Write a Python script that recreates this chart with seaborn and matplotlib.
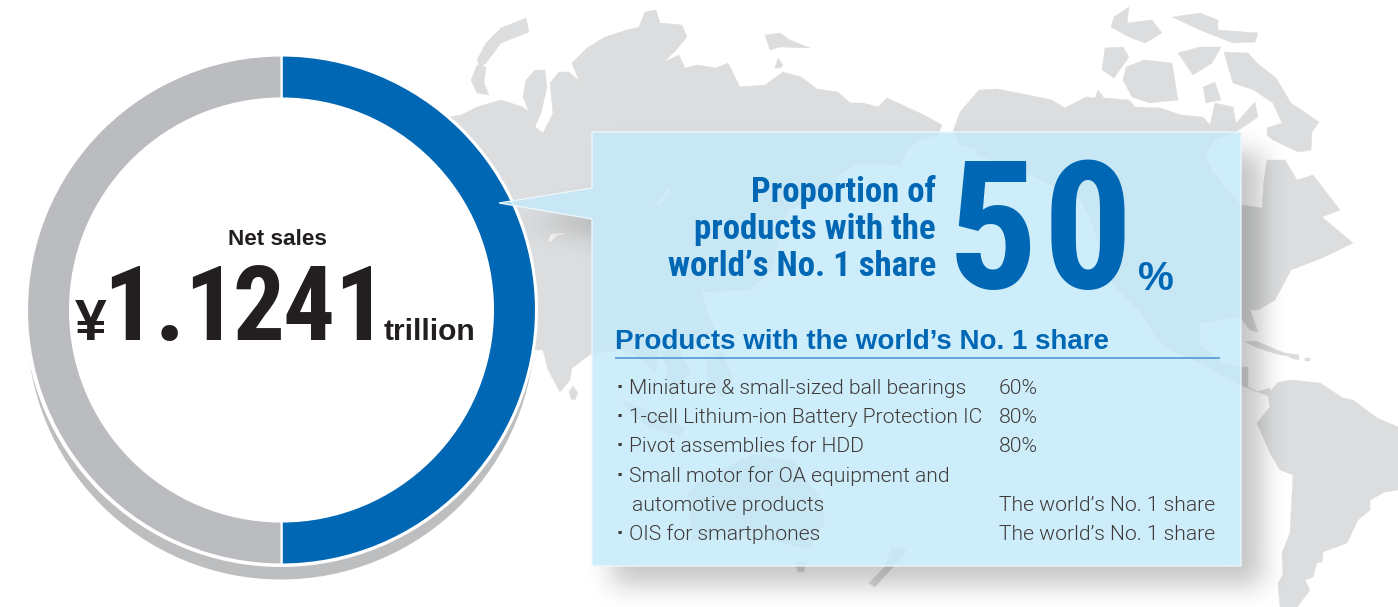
import numpy as np
import matplotlib
matplotlib.use("Agg")
import matplotlib.pyplot as plt
from matplotlib.patches import Circle, Polygon
from matplotlib.path import Path
from matplotlib import font_manager as fm
import seaborn as sns

# ---- figures shown on the chart ----
share_labels = ["World No. 1 products", "Other products"]
share_values = [50, 50]
net_sales = ["1.1", "2", "4", "1"]
product_names = [
    "Miniature & small-sized ball bearings",
    "1-cell Lithium-ion Battery Protection IC",
    "Pivot assemblies for HDD",
    "Small motor for OA equipment and",
    "automotive products",
    "OIS for smartphones",
]
product_shares = ["60%", "80%", "80%", "", "The world’s No. 1 share", "The world’s No. 1 share"]
has_bullet = [True, True, True, True, False, True]
headline = ["Proportion of", "products with the", "world’s No. 1 share"]

# ---- palette ----
BLUE = "#0067B5"
RING_GREY = "#BBBCBF"
LAND = "#DCDDDE"
INK = "#231F20"
BODY = "#3E3A39"
PANEL = "#C5EAF9"

W, H = 1398, 607

# ---- decorative world map outlines, in canvas pixels ----
eurasia = [(430,120),(461,115),(477,107),(501,100),(523,107),(529,112),(523,97),(526,80),(535,70),(545,70),
           (547,87),(541,113),(535,127),(543,133),(553,113),(550,83),(559,72),(569,72),(578,80),(582,88),
           (572,63),(587,48),(605,37),(627,30),(639,27),(645,12),(656,10),(660,23),(682,25),(687,37),
           (676,50),(664,62),(679,55),(685,68),(697,65),(716,68),(728,63),(740,87),(765,85),(783,72),
           (801,77),(817,89),(838,92),(850,103),(863,103),(878,107),(887,98),(924,115),(942,125),(938,135),
           (920,140),(908,149),(900,165),(858,164),(838,175),(832,195),(808,202),(788,210),(782,225),(770,218),
           (778,240),(772,270),(750,290),(702,292),(707,312),(715,330),(692,350),(680,345),(670,352),(660,345),
           (655,372),(640,358),(625,350),(592,353),(572,368),(570,380),(560,392),(548,370),(543,350),(535,350),
           (430,350)]
scandinavia = [(477,60),(486,43),(501,28),(526,18),(529,32),(501,43),(486,63),(480,68)]
iceland_like = [(471,80),(477,65),(486,67),(484,83),(489,95),(477,93)]
svalbard = [(765,35),(780,33),(790,40),(810,48),(780,47),(770,50)]
severny = [(775,68),(778,58),(783,65),(780,68)]
sri_lanka = [(569,392),(573,386),(578,393),(575,400),(571,399)]
sumatra = [(622,400),(650,412),(685,428),(680,436),(650,428),(628,412)]
indochina = [(660,352),(680,350),(690,372),(672,398),(665,385),(668,368)]
borneo = [(707,360),(722,352),(733,378),(722,398),(708,385)]
australia = [(687,493),(705,477),(752,455),(792,460),(822,500),(825,523),(809,550),(772,540),(732,537),(692,540)]
tasmania = [(795,562),(806,562),(804,572),(798,572)]
new_zealand = [(869,583),(884,568),(892,547),(907,550),(892,568),(875,587)]
north_america = [(960,112),(979,90),(997,89),(1028,95),(1052,100),(1065,108),(1086,97),(1095,98),(1098,90),
                 (1104,98),(1129,100),(1135,107),(1160,108),(1181,115),(1203,117),(1210,125),(1215,103),
                 (1233,107),(1236,123),(1255,102),(1258,117),(1236,132),(1215,140),(1205,155),(1213,172),
                 (1241,205),(1262,208),(1264,180),(1267,160),(1285,160),(1297,180),(1313,175),(1340,210),
                 (1322,217),(1353,243),(1322,258),(1291,270),(1275,300),(1258,310),(1250,310),(1258,332),
                 (1250,330),(1240,317),(1200,323),(1200,345),(1222,363),(1240,367),(1248,367),(1248,387),
                 (1257,392),(1270,388),(1271,397),(1240,385),(1200,363),(1170,350),(1157,339),(1140,312),
                 (1113,285),(1090,219),(1080,199),(1030,175),(977,155),(977,149),(960,145),(953,132)]
baffin = [(1227,63),(1224,52),(1248,53),(1257,63),(1276,78),(1291,103),(1319,122),(1312,132),(1311,150),
          (1298,152),(1273,140),(1267,135),(1267,128),(1282,123),(1273,103),(1254,90),(1233,83)]
ellesmere = [(1114,17),(1129,7),(1127,23),(1152,20),(1162,33),(1145,43),(1129,37),(1111,27)]
devon = [(1172,17),(1200,13),(1218,20),(1218,30),(1258,33),(1255,42),(1233,43),(1200,30)]
banks = [(1102,70),(1105,48),(1123,47),(1129,57),(1114,78)]
victoria = [(1126,67),(1144,60),(1172,63),(1178,100),(1150,103),(1132,97),(1123,80)]
somerset = [(1178,53),(1200,47),(1221,47),(1212,63),(1193,75)]
prince = [(1203,87),(1215,82),(1221,100),(1206,103)]
cuba = [(1245,342),(1256,341),(1277,350),(1297,358),(1277,354),(1258,348)]
hispaniola = [(1285,353),(1299,355),(1299,360),(1291,358)]
puerto_rico = [(1305,358),(1310,358),(1310,361),(1305,361)]
south_america = [(1277,383),(1290,380),(1320,383),(1343,398),(1353,400),(1377,418),(1398,427),(1398,490),
                 (1385,492),(1370,500),(1370,510),(1358,520),(1347,543),(1323,552),(1322,562),(1317,563),
                 (1313,577),(1305,580),(1310,590),(1297,607),(1280,607),(1278,583),(1283,575),(1282,553),
                 (1290,533),(1293,475),(1280,470),(1270,453),(1257,423),(1270,407),(1268,395)]
land_shapes = [eurasia, scandinavia, iceland_like, svalbard, severny, sri_lanka, sumatra, indochina, borneo,
               australia, tasmania, new_zealand, north_america, baffin, ellesmere, devon, banks, victoria,
               somerset, prince, cuba, hispaniola, puerto_rico, south_america]

# small inland waters left pale on the land
lake_caspian = [(548,241),(551,234),(567,233),(556,236),(551,242)]
lake_baikal = [(655,206),(668,188),(672,188),(662,203)]

# callout box with its pointer toward the ring
callout = [(592,132),(1241,132),(1241,566),(592,566),(592,219),(499,203),(592,188)]


def first_family(*names):
    for name in names:
        try:
            fm.findfont(fm.FontProperties(family=name), fallback_to_default=False)
            return name
        except ValueError:
            continue
    return "DejaVu Sans"


SANS = first_family("Liberation Sans", "DejaVu Sans")
NARROW = first_family("Roboto Condensed", "Archivo Narrow", "Roboto", "Liberation Sans")
LIGHT = first_family("Roboto", "Liberation Sans")

sns.set_theme(style="white")
plt.rcParams["font.family"] = [SANS, "DejaVu Sans"]
ring_palette = sns.color_palette([BLUE, RING_GREY])

fig = plt.figure(figsize=(W / 100, H / 100), dpi=100, facecolor="white")
ax = fig.add_axes([0, 0, 1, 1])
ax.set_xlim(0, W)
ax.set_ylim(H, 0)
ax.axis("off")

# map
for shape in land_shapes:
    ax.add_patch(Polygon(shape, closed=True, fc=LAND, ec=LAND, lw=0.3, zorder=1))
for lake in (lake_caspian, lake_baikal):
    ax.add_patch(Polygon(lake, closed=True, fc="#F6F6F6", ec="none", zorder=1.1))

# soft drop shadow of the callout, cast down and to the right; none under the box itself
ys, xs = np.mgrid[0:H, 0:W]
grid = np.column_stack([xs.ravel() + 0.5, ys.ravel() + 0.5])
caster = np.array([(612,152),(1262,152),(1262,585),(612,585),(612,235),(525,222),(612,208)], dtype=float)
mask = Path(caster).contains_points(grid).reshape(H, W).astype(float)
sigma = 13.0
radius = np.arange(-40, 41)
kernel = np.exp(-radius ** 2 / (2 * sigma ** 2))
kernel /= kernel.sum()
blurred = np.apply_along_axis(lambda r: np.convolve(r, kernel, mode="same"), 1, mask)
blurred = np.apply_along_axis(lambda c: np.convolve(c, kernel, mode="same"), 0, blurred)
blurred[Path(np.array(callout, dtype=float)).contains_points(grid).reshape(H, W)] = 0
shadow = np.zeros((H, W, 4))
shadow[..., 3] = blurred * 0.23
ax.imshow(shadow, extent=(0, W, H, 0), zorder=2, interpolation="bilinear", aspect="auto")

# ring with its solid offset shadow
ax.add_patch(Circle((281, 325.5), 254, fc="#BDBEC0", ec="none", zorder=3))
ax.add_patch(Circle((281, 310), 257, fc="white", ec="none", zorder=3.1))
wedges, _ = ax.pie(share_values, colors=ring_palette, startangle=270, counterclock=True,
                   center=(281.5, 310), radius=254.5, frame=True,
                   wedgeprops=dict(width=43, edgecolor="white", linewidth=1.5))
for w in wedges:
    w.set_zorder(4)
ax.set_xlim(0, W)
ax.set_ylim(H, 0)
ax.set_aspect("auto")
ax.axis("off")

# translucent callout
ax.add_patch(Polygon(callout, closed=True, fc=PANEL, alpha=0.83, ec="none", zorder=5))
ax.add_patch(Polygon(callout, closed=True, fc="none", ec="#EEF8FC", lw=0.9, zorder=5.1))

# centre of the ring
ax.text(277.5, 245, "Net sales", fontsize=16.2, fontweight="bold", color=INK, ha="center", va="baseline", zorder=6)
ax.text(91, 340, "¥", fontsize=41, fontweight="bold", color=INK, ha="center", va="baseline", zorder=6)
sales_centres = [170, 259, 309, 360]
for ch, cx in zip(net_sales, sales_centres):
    ax.text(cx, 340, ch, family=NARROW, fontsize=74, fontweight="bold", color=INK, ha="center", va="baseline", zorder=6)
ax.text(384, 340, "trillion", fontsize=21.6, fontweight="bold", color=INK, ha="left", va="baseline", zorder=6)

# headline
for line, base in zip(headline, [202, 239, 276]):
    ax.text(936, base, line, family=NARROW, fontsize=25, fontweight="bold", color=BLUE,
            ha="right", va="baseline", zorder=6)
big_digits = list(str(share_values[0]))
for ch, cx in zip(big_digits, [993, 1088]):
    ax.text(cx, 288, ch, family=NARROW, fontsize=128, fontweight="bold", color=BLUE, ha="center", va="baseline", zorder=6)
ax.text(1156, 290, "%", fontsize=29, fontweight="bold", color=BLUE, ha="center", va="baseline", zorder=6)

# product list
ax.text(615, 349, "Products with the world’s No. 1 share", fontsize=20, fontweight="bold",
        color=BLUE, ha="left", va="baseline", zorder=6)
ax.plot([615, 1220], [358, 358], color="#4E9AD4", lw=1.2, zorder=6, solid_capstyle="butt")

row_base = [394, 423, 452, 482, 511, 540]
for name, share, bullet, base in zip(product_names, product_shares, has_bullet, row_base):
    ax.text(629 if bullet else 632, base, name, family=LIGHT, fontweight=300, fontsize=15.2, color=BODY,
            ha="left", va="baseline", zorder=6)
    if bullet:
        ax.text(620, base, "·", fontsize=16, fontweight="bold", color=BODY, ha="center", va="baseline", zorder=6)
    if share:
        ax.text(999, base, share, family=LIGHT, fontweight=300, fontsize=15.2, color=BODY,
                ha="left", va="baseline", zorder=6)

fig.savefig("out.png", dpi=100)
